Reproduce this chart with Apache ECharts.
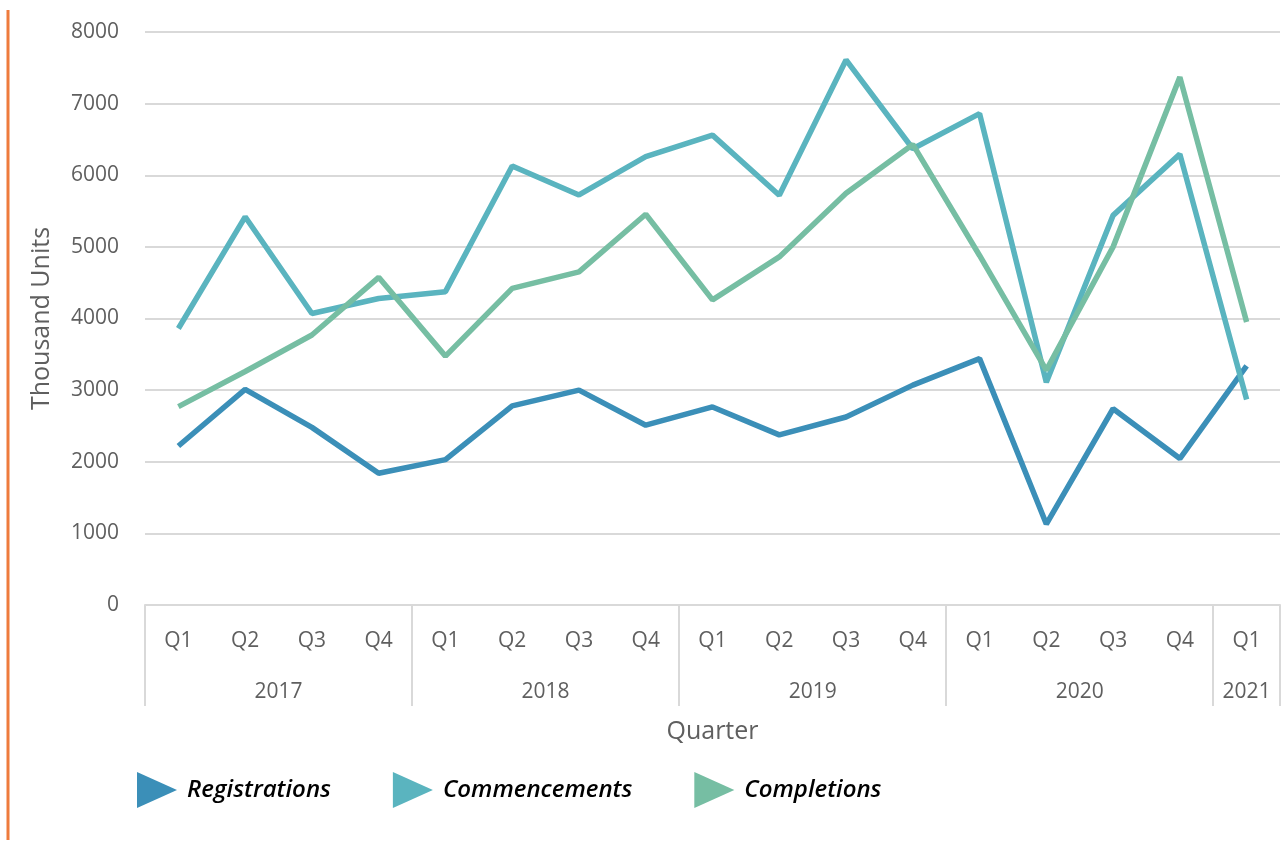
<!DOCTYPE html>
<html>
<head>
<meta charset="utf-8">
<script src="https://cdn.jsdelivr.net/npm/echarts@6/dist/echarts.min.js"></script>
<style>
  html, body { margin: 0; padding: 0; background: #fff; }
  #chart { width: 1284px; height: 842px; }
</style>
</head>
<body>
<div id="chart"></div>
<script>
// quarters and years on the two-level x axis
var quarters = ['Q1','Q2','Q3','Q4','Q1','Q2','Q3','Q4','Q1','Q2','Q3','Q4','Q1','Q2','Q3','Q4','Q1'];
var years = ['2017','2018','2019','2020','2021'];
var yearStart = [0, 4, 8, 12, 16, 17];   // group boundaries (in quarters)
var yearMid = [2, 6, 10, 14, 16.5];      // where each year label sits

// values (thousand units)
var registrations = [2220, 3010, 2480, 1840, 2030, 2780, 3000, 2510, 2765, 2375, 2625, 3070, 3440, 1130, 2740, 2045, 3340];
var commencements = [3860, 5420, 4070, 4280, 4375, 6130, 5725, 6260, 6560, 5720, 7610, 6370, 6860, 3110, 5440, 6295, 2870];
var completions   = [2770, 3260, 3770, 4575, 3475, 4420, 4650, 5455, 4260, 4860, 5750, 6430, 4880, 3280, 5000, 7370, 3950];

var colReg = '#3b8fb8';
var colCom = '#5ab4bf';
var colCpl = '#76bea3';
var gray = '#5f5f5f';
var font = '"Open Sans", "Noto Sans", sans-serif';

var myChart = echarts.init(document.getElementById('chart'));

var tri = 'path://M0,0 L40,18 L0,36 Z';

var option = {
    animation: false,
    textStyle: { fontFamily: font },
    graphic: [{
        type: 'line',
        shape: { x1: 8, y1: 10, x2: 8, y2: 840 },
        style: { stroke: '#ee7b3c', lineWidth: 3 }
    }],
    grid: { left: 145, right: 4, top: 32, bottom: 237 },
    legend: {
        left: 132,
        top: 767,
        itemWidth: 40,
        itemHeight: 36,
        itemGap: 62,
        icon: tri,
        textStyle: {
            color: '#000',
            fontSize: 24,
            fontStyle: 'italic',
            fontWeight: 600,
            fontFamily: font,
            padding: [0, 0, 0, 5]
        },
        data: ['Registrations', 'Commencements', 'Completions']
    },
    xAxis: [
        {
            type: 'category',
            data: quarters,
            position: 'bottom',
            boundaryGap: true,
            axisLine: { show: true, lineStyle: { color: '#d9d9d9', width: 2 } },
            axisTick: { show: false },
            axisLabel: { color: gray, fontSize: 21, margin: 26, interval: 0 },
            splitLine: { show: false }
        },
        {
            type: 'value',
            min: 0,
            max: 17,
            position: 'bottom',
            axisLine: { show: false },
            axisTick: {
                show: true,
                customValues: yearStart,
                length: 101,
                lineStyle: { color: '#d9d9d9', width: 2 }
            },
            axisLabel: {
                show: true,
                customValues: yearMid,
                color: gray,
                fontSize: 21,
                margin: 77,
                formatter: function (v) {
                    var i = yearMid.indexOf(v);
                    return i >= 0 ? years[i] : '';
                }
            },
            splitLine: { show: false },
            name: 'Quarter',
            nameLocation: 'middle',
            nameGap: 114,
            nameTextStyle: { color: gray, fontSize: 25 }
        }
    ],
    yAxis: {
        type: 'value',
        min: 0,
        max: 8000,
        interval: 1000,
        axisLine: { show: false },
        axisTick: { show: false },
        axisLabel: {
            color: gray,
            fontSize: 21,
            margin: 26,
            formatter: function (v) { return String(v); }
        },
        splitLine: { lineStyle: { color: '#d9d9d9', width: 2 } },
        name: 'Thousand Units',
        nameLocation: 'middle',
        nameGap: 91,
        nameTextStyle: { color: gray, fontSize: 25 }
    },
    series: [
        {
            name: 'Registrations',
            type: 'line',
            xAxisIndex: 0,
            data: registrations,
            showSymbol: false,
            symbol: 'none',
            itemStyle: { color: colReg },
            lineStyle: { color: colReg, width: 5.5 }
        },
        {
            name: 'Commencements',
            type: 'line',
            xAxisIndex: 0,
            data: commencements,
            showSymbol: false,
            symbol: 'none',
            itemStyle: { color: colCom },
            lineStyle: { color: colCom, width: 5.5 }
        },
        {
            name: 'Completions',
            type: 'line',
            xAxisIndex: 0,
            data: completions,
            showSymbol: false,
            symbol: 'none',
            itemStyle: { color: colCpl },
            lineStyle: { color: colCpl, width: 5.5 }
        }
    ]
};
myChart.setOption(option);
window.addEventListener('resize', function () {
    myChart.resize();
});
</script>
</body>
</html>
